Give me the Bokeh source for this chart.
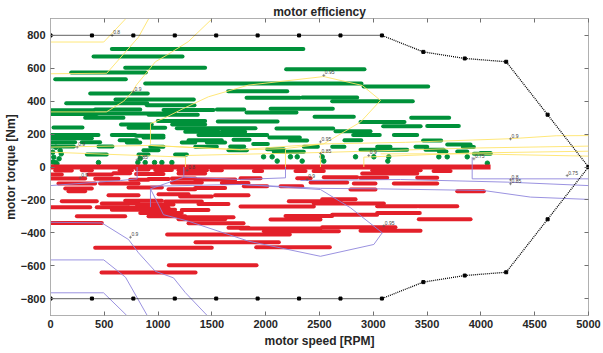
from bokeh.plotting import figure
from bokeh.models import LinearAxis, Range1d, FixedTicker
from bokeh.embed import file_html
from bokeh.resources import INLINE
from bokeh.core.properties import value

# ---------------- data ----------------
speed_ticks = [0, 500, 1000, 1500, 2000, 2500, 3000, 3500, 4000, 4500, 5000]
torque_ticks = [-800, -600, -400, -200, 0, 200, 400, 600, 800]

env_speed = [0, 385, 770, 1155, 1540, 1925, 2310, 2695, 3080, 3465, 3850, 4235, 4620, 5000]
env_torque = [800, 800, 800, 800, 800, 800, 800, 800, 800, 700, 660, 640, 318, 0]

# motoring operating points (green): start speed, end speed, torque
green_x0 = [570, 400, 694, 2190, 192, 44, 880, 2910, 1651, 369, 1822, 2339, 604, 2618, 146, 895,
            0, 415, 1050, 1546, 2045, 0, 384, 911, 1822, 322, 2454, 3352, 997, 1555, 2881, 655,
            1131, 3092, 3501, 28, 725, 1174, 2100, 1252, 1592, 2649, 0, 570, 793, 1375, 2813, 3191,
            2035, 0, 864, 643, 1283, 1701, 2224, 2732, 3463, 0, 291, 709, 1220, 1453, 1884, 3687,
            0, 446, 927, 1345, 1670, 2354, 2618, 3036, 3392, 3832, 864, 1654, 2014, 2881, 3485,
            3780, 3609, 2075, 3935, 338, 818, 1158, 3997]
green_x1 = [2350, 1227, 1437, 2918, 886, 700, 2890, 3510, 2200, 904, 2317, 2850, 1332, 3367, 899, 1338,
            400, 834, 1515, 1800, 2624, 430, 1158, 1369, 2286, 678, 2819, 3705, 1437, 2110, 3290, 941,
            1437, 3440, 3795, 297, 1066, 1905, 2627, 1561, 1809, 2974, 446, 787, 1050, 2014, 3060, 3408,
            2317, 384, 1050, 802, 1592, 1850, 2385, 2888, 3631, 229, 461, 834, 1345, 1623, 2020, 3904,
            217, 576, 1050, 1546, 1800, 2485, 2732, 3160, 3501, 3935, 1004, 1825, 2168, 3315, 3655,
            3873, 3680, 2354, 4090, 523, 911, 1267, 4090]
green_y = [717, 672, 603, 595, 575, 534, 508, 490, 461, 447, 421, 423, 410, 400, 388, 376,
           345, 350, 346, 350, 354, 323, 325, 318, 332, 299, 305, 300, 279, 277, 273, 258,
           258, 248, 250, 240, 238, 236, 234, 214, 214, 218, 194, 194, 190, 194, 194, 194,
           180, 175, 180, 163, 163, 165, 161, 163, 161, 150, 150, 149, 149, 149, 140, 137,
           125, 125, 123, 123, 125, 123, 123, 123, 123, 121, 102, 102, 108, 105, 105,
           94, 94, 92, 80, 76, 76, 76, 85]

# isolated motoring points (green dots)
green_dot_x = [44, 446, 812, 880, 967, 1035, 1128, 4060, 1980, 2060, 2230, 2293, 2525, 2835, 3005,
               3144, 3609, 3687, 3873, 2107, 2339, 2540, 3135, 20, 60, 30, 80, 20, 90, 50, 100, 834]
green_dot_y = [27, 27, 27, 27, 27, 27, 27, 23, 62, 62, 62, 62, 62, 62, 62,
               62, 62, 62, 62, 36, 36, 36, 36, 30, 20, 60, 50, 90, 100, 120, 80, 52]

# generating operating points (red)
red_x0 = [44, 291, 643, 802, 973, 1190, 1496, 1890, 2277, 2445, 2990, 3560, 0, 353, 585, 795,
          1190, 2897, 0, 415, 740, 911, 1128, 1345, 1766, 2293, 2540, 2881, 3408, 74, 461, 1128,
          1592, 2417, 2819, 3191, 1797, 2138, 137, 725, 1097, 1345, 2788, 3780, 167, 1004, 1530,
          539, 1205, 2525, 105, 694, 1066, 2215, 477, 802, 1375, 2447, 0, 430, 725, 1766, 3036,
          3423, 570, 1220, 834, 3036, 2618, 245, 911, 1252, 2184, 1190, 2045, 3423, 0, 1283, 2525,
          1766, 1983, 2881, 1084, 1348, 1912, 415, 1100, 474, 1654]
red_x1 = [198, 384, 756, 911, 1128, 1453, 1592, 1967, 2370, 2540, 3440, 3718, 105, 570, 740, 1050,
          1437, 3408, 322, 632, 911, 1097, 1345, 1717, 1952, 2417, 2850, 3129, 3594, 415, 818, 1406,
          1840, 2757, 3020, 3594, 2014, 2339, 384, 1035, 1345, 1623, 3020, 4027, 322, 1283, 1840,
          818, 1499, 2835, 430, 1035, 1406, 2695, 818, 1143, 1654, 3098, 369, 725, 1097, 2447, 3408,
          3780, 1158, 1468, 1220, 3432, 3036, 694, 1252, 1701, 2618, 1623, 2509, 3904, 477, 1794, 3206,
          2509, 2680, 3439, 2224, 2122, 2596, 1499, 1915, 1348, 1840]
red_y = [-21, -20, -20, -15, -18, -20, -20, -25, -25, -25, -20, -25, -45, -45, -38, -42,
         -40, -40, -70, -72, -78, -73, -70, -76, -68, -68, -62, -65, -65, -100, -100, -95,
         -98, -95, -100, -100, -117, -117, -130, -125, -135, -128, -137, -147, -147, -165, -172,
         -172, -180, -196, -208, -205, -210, -208, -222, -228, -225, -222, -245, -245, -248, -240, -238,
         -238, -260, -262, -280, -279, -290, -300, -300, -306, -298, -318, -320, -318, -340, -342, -366,
         -374, -390, -388, -411, -457, -488, -491, -597, -642, -370]

# zero-torque operating line
zero_speed = [0, 4090]
zero_torque = [0, 0]

# efficiency contours (upper half, yellow)
yellow_xs = [
    [0, 495, 697],
    [0, 523, 818, 911],
    [0, 520, 680, 760, 800, 975, 1080, 1280, 1500],
    [929, 929, 1050, 1236, 1468, 1840, 2540, 2897, 3067, 2881, 2540, 2184, 1766, 929],
    [0, 929, 1766, 2509, 3300, 4275, 4700, 5000],
    [0, 1254, 1254],
    [1254, 2509, 3900, 5000],
    [2912, 2912, 3900, 5000],
    [2184, 2184],
    [2509, 2509],
    [3067, 3919, 5000],
]
yellow_ys = [
    [760, 760, 900],
    [567, 570, 790, 900],
    [335, 335, 400, 457, 500, 640, 680, 762, 900],
    [141, 264, 295, 356, 427, 498, 550, 496, 405, 273, 141, 112, 104, 131],
    [121, 131, 106, 140, 150, 172, 190, 191],
    [90, 60, 0],
    [70, 88, 115, 127],
    [0, 60, 85, 96],
    [108, 0],
    [92, 0],
    [80, 80, 66],
]

# efficiency contours (lower half, purple)
purple_xs = [
    [0, 493, 709],
    [0, 495, 697, 899],
    [0, 477, 725, 818, 973, 1143, 1252, 1456],
    [929, 929, 1050, 1283, 1840, 2509, 3005, 3083, 2788, 2509, 1766, 929],
    [0, 650, 805, 805],
    [929, 1239, 1239],
    [1239, 1766, 2184, 2184],
    [2323, 3253, 4244, 5000],
    [3919, 3919, 5000],
    [1766, 2509, 3067, 4027, 4461, 5000],
]
purple_ys = [
    [-765, -765, -903],
    [-565, -565, -670, -903],
    [-336, -340, -441, -522, -634, -674, -763, -903],
    [-244, -133, -290, -330, -451, -543, -471, -400, -248, -137, -106, -117],
    [-113, -82, -72, 0],
    [-133, -62, 0],
    [-62, -76, -66, 0],
    [-82, -76, -92, -113],
    [60, -72, -72],
    [-106, -130, -133, -143, -183, -197],
]

clabel_x = [573, 771, 2540, 2509, 2509, 2958, 3935, 4275, 805, 248,
            743, 3098, 4275, 4275, 4802, 2385, 276, 1270]
clabel_y = [800, 457, 557, 153, 82, 70, 50, 171, 44, 121,
            -427, -358, -78, -102, -52, -76, -66, -21]
clabel_t = ["0.8", "0.9", "0.95", "0.95", "0.85", "0.9", "0.75", "0.9", "0.85", "0.9",
            "0.9", "0.95", "0.8", "0.85", "0.75", "0.9", "0.9", "0.8"]

# ---------------- figure ----------------
FONT = "Liberation Sans"
GREEN = "#00913a"
RED = "#e3202a"
YELLOW = "#ffe46a"
PURPLE = "#8f86dc"

p = figure(width=603, height=353, output_backend="svg", toolbar_location=None,
           x_range=Range1d(0, 5000), y_range=Range1d(-903, 903),
           title="motor efficiency",
           min_border_left=50, min_border_right=15, min_border_top=18, min_border_bottom=38,
           background_fill_color="white", border_fill_color="white")
p.grid.visible = False
p.outline_line_color = "#b0b0b0"
p.title.align = "center"
p.title.text_font = FONT
p.title.text_font_style = "bold"
p.title.text_font_size = "12px"
p.title.text_color = "#262626"
p.title.standoff = 0
p.title.offset = 0

# bands of operating points
p.segment(x0=green_x0, y0=green_y, x1=green_x1, y1=green_y, line_color=GREEN,
          line_width=4.0, line_cap="round")
p.scatter(green_dot_x, green_dot_y, size=4.5, color=GREEN)
p.segment(x0=red_x0, y0=red_y, x1=red_x1, y1=red_y, line_color=RED,
          line_width=4.0, line_cap="round")
p.line(zero_speed, zero_torque, line_color=RED, line_width=5.0)

# contours
p.multi_line(yellow_xs, yellow_ys, line_color=YELLOW, line_width=0.9)
p.multi_line(purple_xs, purple_ys, line_color=PURPLE, line_width=0.9)
p.scatter(clabel_x, clabel_y, marker="cross", size=3, color="#555555", line_width=0.6)
p.text(clabel_x, clabel_y, text=clabel_t, text_font=value(FONT), text_font_size="5px",
       text_color="#444444", x_offset=1, y_offset=-1, text_baseline="bottom")

# torque envelope
env_torque_neg = [-t for t in env_torque]
p.line(env_speed, env_torque, line_color="black", line_width=1.3, line_dash="1 1")
p.line(env_speed, env_torque_neg, line_color="black", line_width=1.3, line_dash="1 1")
p.scatter(env_speed, env_torque, marker="square", size=3, color="black")
p.scatter(env_speed, env_torque_neg, marker="square", size=3, color="black")

# axes
for ax in (p.xaxis[0], p.yaxis[0]):
    ax.major_tick_in = 4
    ax.major_tick_out = 0
    ax.minor_tick_line_color = None
    ax.axis_line_color = "#b0b0b0"
    ax.major_tick_line_color = "#707070"
    ax.major_label_text_font = FONT
    ax.major_label_text_font_style = "bold"
    ax.major_label_text_font_size = "11px"
    ax.major_label_text_color = "#262626"
    ax.axis_label_text_font = FONT
    ax.axis_label_text_font_style = "bold"
    ax.axis_label_text_font_size = "12px"
    ax.axis_label_text_color = "#262626"
p.xaxis[0].major_label_standoff = 4
p.xaxis[0].axis_label_standoff = 3
p.yaxis[0].major_label_standoff = 5
p.yaxis[0].axis_label_standoff = 0
p.xaxis[0].ticker = FixedTicker(ticks=speed_ticks)
p.yaxis[0].ticker = FixedTicker(ticks=torque_ticks)
p.xaxis[0].axis_label = "motor speed [RPM]"
p.yaxis[0].axis_label = "motor torque [Nm]"

top_ax = LinearAxis(ticker=FixedTicker(ticks=speed_ticks),
                    major_label_overrides={t: "" for t in speed_ticks})
right_ax = LinearAxis(ticker=FixedTicker(ticks=torque_ticks),
                      major_label_overrides={t: "" for t in torque_ticks})
for ax in (top_ax, right_ax):
    ax.major_tick_in = 4
    ax.major_tick_out = 0
    ax.minor_tick_line_color = None
    ax.axis_line_color = None
    ax.major_tick_line_color = "#707070"
    ax.major_label_text_font_size = "1px"
    ax.major_label_standoff = 0
p.add_layout(top_ax, "above")
p.add_layout(right_ax, "right")

open("out.html", "w").write(file_html(p, INLINE))
